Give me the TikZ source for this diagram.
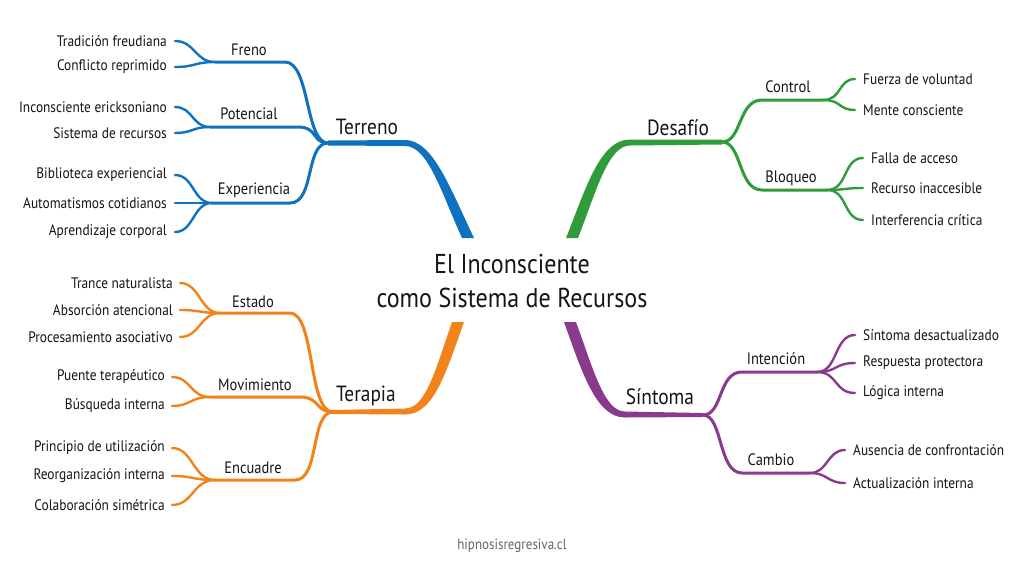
\documentclass[tikz,border=0pt]{standalone}
\usepackage{fontspec}
\setmainfont[FakeStretch=0.88]{PT Sans}
\definecolor{cblue}{HTML}{0E72C0}
\definecolor{cgreen}{HTML}{2F9B3A}
\definecolor{corange}{HTML}{F2831A}
\definecolor{cpurple}{HTML}{8A3A8C}
\definecolor{ctext}{HTML}{151515}
\begin{document}
\begin{tikzpicture}[x=1pt,y=-1pt,
  leafL/.style={anchor=east,inner sep=0pt,font=\fontsize{15.2}{17}\selectfont,text=ctext},
  leafR/.style={anchor=west,inner sep=0pt,font=\fontsize{15.2}{17}\selectfont,text=ctext},
  sublab/.style={inner sep=0pt,font=\fontsize{16.5}{19}\selectfont,text=ctext},
  mainlab/.style={inner sep=0pt,font=\fontsize{22}{25}\selectfont,text=ctext},
  subline/.style={line width=3pt,line cap=round},
  leafline/.style={line width=2.4pt,line cap=round}]
\fill[white] (0,0) rectangle (1024,576);
\useasboundingbox (0,0) rectangle (1024,576);

% title
\node[inner sep=0pt,align=center,font=\fontsize{27.3}{34}\selectfont,text=ctext] (title) at (512,281) {El Inconsciente\\como Sistema de Recursos};
\node[inner sep=0pt,font=\fontsize{14.8}{17}\selectfont,text=black!60] (foot) at (512,546) {hipnosisregresiva.cl};

% ================= BLUE: Terreno =================
\coordinate (T) at (328,143);
\fill[cblue] (328,140.5) -- (405,140) .. controls (433,140) and (450,188) .. (474,238)
  -- (462,238) .. controls (441,192) and (428,146) .. (405,146) -- (328,145.5) -- cycle;
\node[mainlab] (terreno) at (367,127) {Terreno};
\begin{scope}[cblue]
\coordinate (hFreno) at (215,62);
\coordinate (hPot) at (210,127);
\coordinate (hExp) at (212,203);
\draw[subline] (T) .. controls (305,143) and (310,62) .. (285,62) -- (hFreno);
\draw[subline] (T) .. controls (312,143) and (318,127) .. (298,127) -- (hPot);
\draw[subline] (T) .. controls (305,143) and (315,203) .. (290,203) -- (hExp);
\coordinate (l1) at (175,41); \coordinate (l2) at (175,67);
\coordinate (l3) at (175,107); \coordinate (l4) at (175,133);
\coordinate (l5) at (175,175); \coordinate (l6) at (175,203); \coordinate (l7) at (175,232);
\draw[leafline] (hFreno) .. controls (195,62) and (195,41) .. (l1);
\draw[leafline] (hFreno) .. controls (195,62) and (195,67) .. (l2);
\draw[leafline] (hPot) .. controls (192,127) and (193,107) .. (l3);
\draw[leafline] (hPot) .. controls (192,127) and (193,133) .. (l4);
\draw[leafline] (hExp) .. controls (193,203) and (194,175) .. (l5);
\draw[leafline] (hExp) -- (l6);
\draw[leafline] (hExp) .. controls (193,203) and (194,232) .. (l7);
\end{scope}
\node[sublab] (freno) at (249,50) {Freno};
\node[sublab] (pot) at (249,114) {Potencial};
\node[sublab] (exp) at (254,190) {Experiencia};
\node[leafL] at (167,41) {Tradición freudiana};
\node[leafL] at (167,67) {Conflicto reprimido};
\node[leafL] at (167,107) {Inconsciente ericksoniano};
\node[leafL] at (167,133) {Sistema de recursos};
\node[leafL] at (167,175) {Biblioteca experiencial};
\node[leafL] at (167,203) {Automatismos cotidianos};
\node[leafL] at (167,232) {Aprendizaje corporal};

% ================= GREEN: Desafío =================
\coordinate (D) at (722,142);
\fill[cgreen] (722,139.5) -- (630,139.5) .. controls (600,139.5) and (586,188) .. (566,238)
  -- (578,238) .. controls (596,192) and (608,145.5) .. (630,145.5) -- (722,144.5) -- cycle;
\node[mainlab] (desafio) at (678,128) {Desafío};
\begin{scope}[cgreen]
\coordinate (hCon) at (823,100);
\coordinate (hBlo) at (827,190);
\draw[subline] (D) .. controls (742,142) and (738,100) .. (762,100) -- (hCon);
\draw[subline] (D) .. controls (742,142) and (738,190) .. (762,190) -- (hBlo);
\coordinate (g1) at (855,79); \coordinate (g2) at (855,110);
\coordinate (g3) at (863,158); \coordinate (g4) at (863,188); \coordinate (g5) at (863,220);
\draw[leafline] (hCon) .. controls (842,100) and (838,79) .. (g1);
\draw[leafline] (hCon) .. controls (842,100) and (838,110) .. (g2);
\draw[leafline] (hBlo) .. controls (848,190) and (843,158) .. (g3);
\draw[leafline] (hBlo) .. controls (845,190) and (845,188) .. (g4);
\draw[leafline] (hBlo) .. controls (848,190) and (843,220) .. (g5);
\end{scope}
\node[sublab] (control) at (788,87) {Control};
\node[sublab] (bloqueo) at (791,178) {Bloqueo};
\node[leafR] at (863,79) {Fuerza de voluntad};
\node[leafR] at (863,110) {Mente consciente};
\node[leafR] at (871,158) {Falla de acceso};
\node[leafR] at (871,188) {Recurso inaccesible};
\node[leafR] at (871,220) {Interferencia crítica};

% ================= ORANGE: Terapia =================
\coordinate (P) at (333,412);
\fill[corange] (333,414) -- (405,414.5) .. controls (434,414.5) and (446,372) .. (464,322)
  -- (452,322) .. controls (436,368) and (426,408.5) .. (405,408.5) -- (333,410) -- cycle;
\node[mainlab] (terapia) at (366,396) {Terapia};
\begin{scope}[corange]
\coordinate (hEst) at (220,313);
\coordinate (hMov) at (210,397);
\coordinate (hEnc) at (215,480);
\draw[subline] (P) .. controls (308,412) and (315,313) .. (290,313) -- (hEst);
\draw[subline] (P) .. controls (315,412) and (320,397) .. (300,397) -- (hMov);
\draw[subline] (P) .. controls (310,412) and (320,480) .. (295,480) -- (hEnc);
\coordinate (o1) at (180,283); \coordinate (o2) at (180,310); \coordinate (o3) at (180,337);
\coordinate (o4) at (172,377); \coordinate (o5) at (172,406);
\coordinate (o6) at (172,448); \coordinate (o7) at (172,476); \coordinate (o8) at (172,505);
\draw[leafline] (hEst) .. controls (200,313) and (200,283) .. (o1);
\draw[leafline] (hEst) .. controls (200,313) and (200,310) .. (o2);
\draw[leafline] (hEst) .. controls (200,313) and (200,337) .. (o3);
\draw[leafline] (hMov) .. controls (190,397) and (191,377) .. (o4);
\draw[leafline] (hMov) .. controls (190,397) and (191,406) .. (o5);
\draw[leafline] (hEnc) .. controls (193,480) and (193,448) .. (o6);
\draw[leafline] (hEnc) .. controls (193,480) and (193,476) .. (o7);
\draw[leafline] (hEnc) .. controls (193,480) and (193,505) .. (o8);
\end{scope}
\node[sublab] (estado) at (253,302) {Estado};
\node[sublab] (mov) at (255,385) {Movimiento};
\node[sublab] (enc) at (253,468) {Encuadre};
\node[leafL] at (173,283) {Trance naturalista};
\node[leafL] at (173,310) {Absorción atencional};
\node[leafL] at (173,337) {Procesamiento asociativo};
\node[leafL] at (165,377) {Puente terapéutico};
\node[leafL] at (165,406) {Búsqueda interna};
\node[leafL] at (165,448) {Principio de utilización};
\node[leafL] at (165,476) {Reorganización interna};
\node[leafL] at (165,505) {Colaboración simétrica};

% ================= PURPLE: Síntoma =================
\coordinate (S) at (703,415);
\fill[cpurple] (703,417) -- (625,417.5) .. controls (596,417.5) and (582,372) .. (564,322)
  -- (576,322) .. controls (593,368) and (604,411.5) .. (625,411.5) -- (703,413) -- cycle;
\node[mainlab] (sintoma) at (660,397) {Síntoma};
\begin{scope}[cpurple]
\coordinate (hInt) at (817,372);
\coordinate (hCam) at (810,473);
\draw[subline] (S) .. controls (723,415) and (718,372) .. (742,372) -- (hInt);
\draw[subline] (S) .. controls (723,415) and (718,473) .. (742,473) -- (hCam);
\coordinate (p1) at (855,335); \coordinate (p2) at (855,363); \coordinate (p3) at (855,393);
\coordinate (p4) at (845,450); \coordinate (p5) at (845,483);
\draw[leafline] (hInt) .. controls (838,372) and (834,335) .. (p1);
\draw[leafline] (hInt) .. controls (838,372) and (834,363) .. (p2);
\draw[leafline] (hInt) .. controls (838,372) and (834,393) .. (p3);
\draw[leafline] (hCam) .. controls (828,473) and (827,450) .. (p4);
\draw[leafline] (hCam) .. controls (828,473) and (827,483) .. (p5);
\end{scope}
\node[sublab] (int) at (776,359) {Intención};
\node[sublab] (cam) at (771,460) {Cambio};
\node[leafR] at (863,335) {Síntoma desactualizado};
\node[leafR] at (863,363) {Respuesta protectora};
\node[leafR] at (863,393) {Lógica interna};
\node[leafR] at (853,450) {Ausencia de confrontación};
\node[leafR] at (853,483) {Actualización interna};
\end{tikzpicture}
\end{document}
